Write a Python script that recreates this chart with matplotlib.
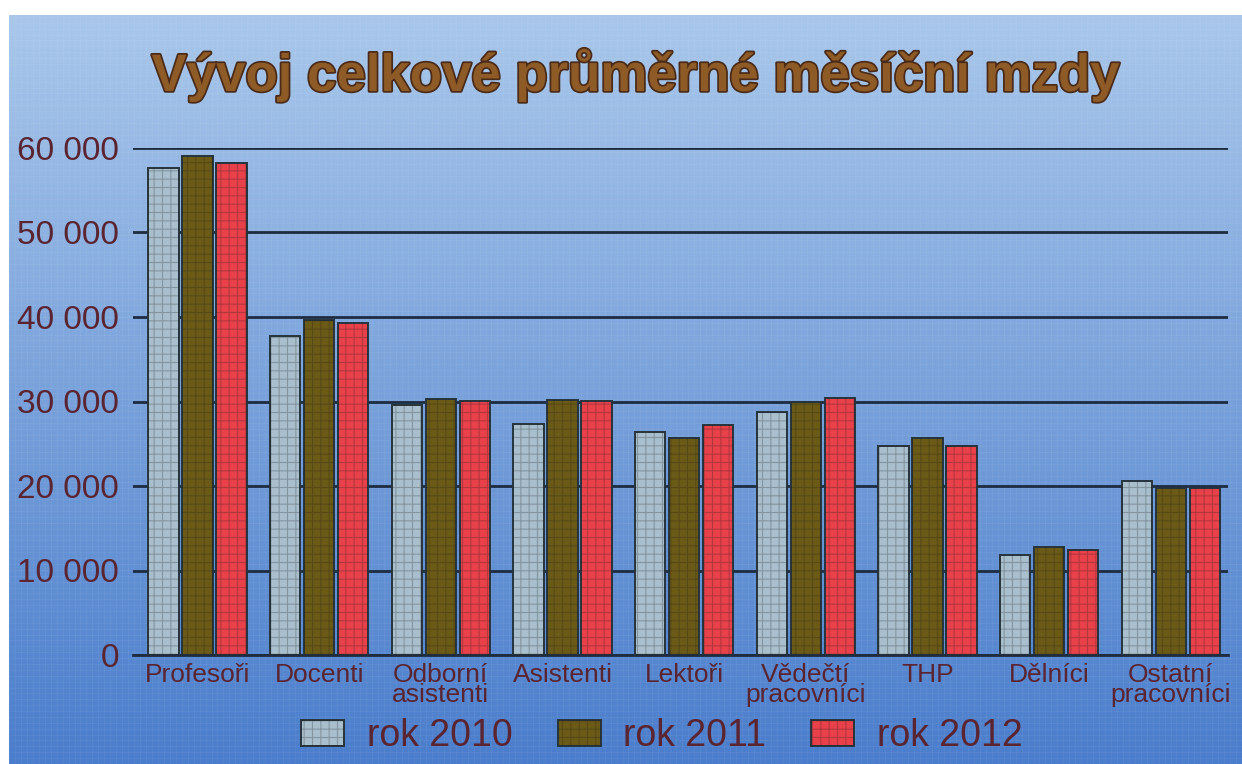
import numpy as np
import matplotlib
matplotlib.use('Agg')
import matplotlib.pyplot as plt
import matplotlib.patheffects as pe
import matplotlib.patches as mpatches
from matplotlib.legend_handler import HandlerTuple

# data
categories = ['Profesoři', 'Docenti', 'Odborní\nasistenti', 'Asistenti', 'Lektoři',
              'Vědečtí\npracovníci', 'THP', 'Dělníci', 'Ostatní\npracovníci']
rok_2010 = [57600, 37800, 29600, 27300, 26400, 28800, 24700, 11800, 20600]
rok_2011 = [59100, 39600, 30300, 30200, 25700, 30000, 25700, 12800, 19800]
rok_2012 = [58200, 39300, 30100, 30100, 27200, 30400, 24700, 12400, 19800]
series_labels = ['rok 2010', 'rok 2011', 'rok 2012']
y_ticks = [0, 10000, 20000, 30000, 40000, 50000, 60000]
y_tick_labels = ['0', '10 000', '20 000', '30 000', '40 000', '50 000', '60 000']

colors = ['#a9bfcd', '#6b5a16', '#e8414a']
text_col = '#5a2430'
edge_col = '#26343c'
hatch_col = (0.1, 0.1, 0.1, 0.25)

plt.rcParams['font.family'] = ['Liberation Sans', 'DejaVu Sans']
plt.rcParams['hatch.linewidth'] = 0.8

W, H = 1242, 764
fig = plt.figure(figsize=(W / 100, H / 100), dpi=100)
fig.patch.set_facecolor('white')

# blue gradient background (white strip on top and left)
bg = fig.add_axes([9 / W, 0, 1 - 9 / W, 1 - 15 / H])
bg.set_axis_off()
top = np.array([0.66, 0.78, 0.92])
bot = np.array([0.29, 0.49, 0.80])
t = np.linspace(0, 1, 256)[:, None]
grad = top[None, None, :] * (1 - t[:, :, None]) + bot[None, None, :] * t[:, :, None]
grad = np.repeat(grad, 4, axis=1)
bg.imshow(grad, aspect='auto', extent=[0, 1, 0, 1])
# fine texture lines
for v in np.arange(0, 1, 6 / W):
    bg.axvline(v, color='white', alpha=0.05, lw=0.8)
for v in np.arange(0, 1, 6 / H):
    bg.axhline(v, color='white', alpha=0.05, lw=0.8)
bg.set_xlim(0, 1)
bg.set_ylim(0, 1)

ax = fig.add_axes([133 / W, 1 - 655 / H, (1228 - 133) / W, (655 - 148) / H])
ax.set_facecolor('none')

x = np.arange(len(categories))
bw = 0.25
off = 0.28
data = [rok_2010, rok_2011, rok_2012]
handles = []
for i, (vals, c) in enumerate(zip(data, colors)):
    pos = x + (i - 1) * off
    ax.bar(pos, vals, bw, color=c, edgecolor=edge_col, linewidth=1.4, zorder=3)
    ax.bar(pos, vals, bw, color='none', edgecolor=hatch_col, hatch='++', linewidth=0, zorder=4)
    h1 = mpatches.Patch(facecolor=c, edgecolor=edge_col, linewidth=1.4)
    h2 = mpatches.Patch(facecolor='none', edgecolor=hatch_col, hatch='++', linewidth=0)
    handles.append((h1, h2))

ax.set_xlim(-0.53, len(categories) - 0.53)
ax.set_ylim(0, 60000)
ax.set_yticks(y_ticks)
ax.set_yticklabels(y_tick_labels, fontsize=24, color=text_col)
ax.set_xticks(x)
ax.set_xticklabels(categories, fontsize=19, color=text_col, linespacing=0.78)
ax.tick_params(axis='both', length=0)
ax.tick_params(axis='y', pad=10)
ax.tick_params(axis='x', pad=6)
ax.yaxis.grid(True, color='#1d2c40', linewidth=2, zorder=1)
ax.set_axisbelow(True)
for s in ['top', 'right', 'left']:
    ax.spines[s].set_visible(False)
ax.spines['bottom'].set_color('#1d2c40')
ax.spines['bottom'].set_linewidth(2)

leg = fig.legend(handles, series_labels, loc='center', bbox_to_anchor=(662 / W, 1 - 736 / H),
                 ncol=3, frameon=False, fontsize=27, handlelength=1.15, handleheight=0.7,
                 handletextpad=0.6, columnspacing=1.2, labelcolor=text_col,
                 handler_map={tuple: HandlerTuple(ndivide=1, pad=0)})

title = fig.text(635 / W, 1 - 75 / H, 'Vývoj celkové průměrné měsíční mzdy', ha='center', va='center',
                 fontsize=38, fontweight='bold', color='#8e5a26')
title.set_path_effects([pe.withStroke(linewidth=2.5, foreground='#4a2a18')])

fig.savefig('out.png', dpi=100)
